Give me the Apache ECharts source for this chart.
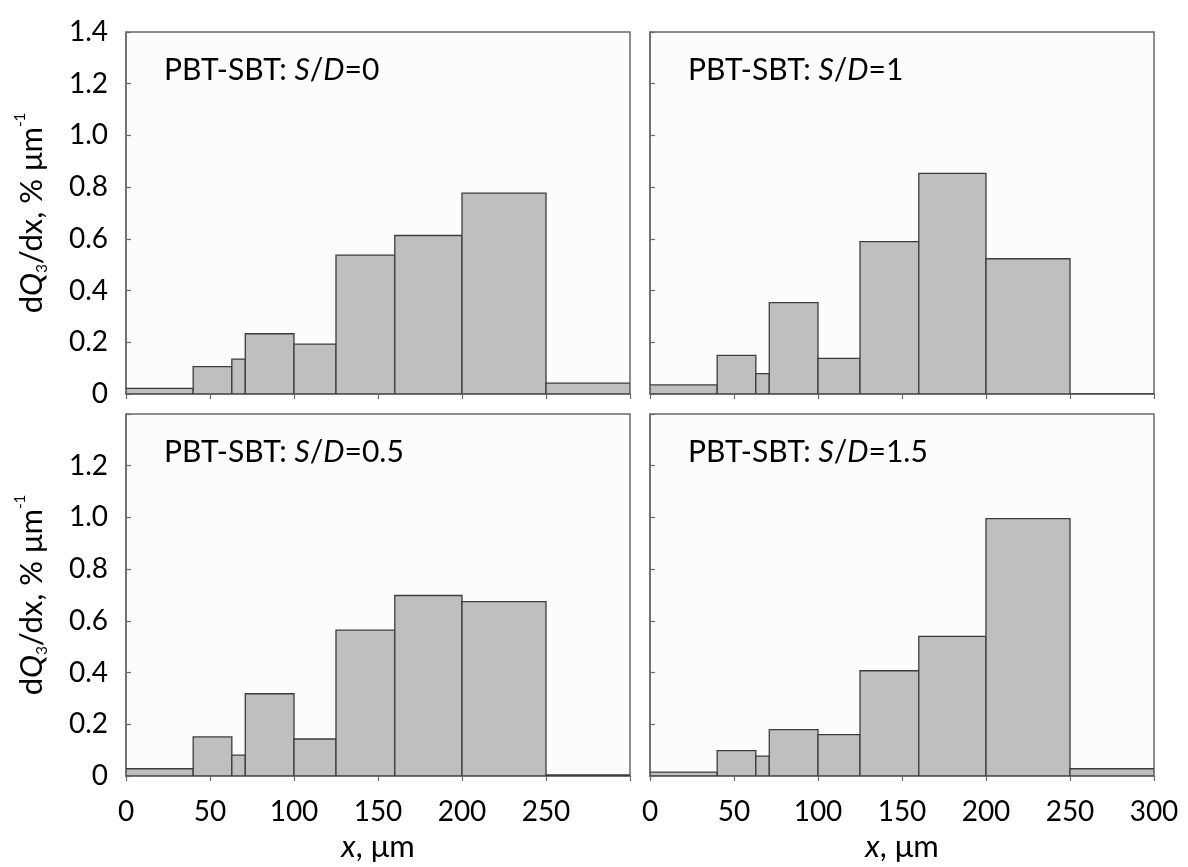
<!DOCTYPE html>
<html>
<head>
<meta charset="utf-8">
<script src="https://cdn.jsdelivr.net/npm/echarts@6/dist/echarts.min.js"></script>
<style>
html,body{margin:0;padding:0;background:#fff;}
#chart{width:1188px;height:867px;}
</style>
</head>
<body>
<div id="chart"></div>
<script>
// Bin edges (µm) shared by all panels
const binEdges = [0, 40, 63, 71, 100, 125, 160, 200, 250, 300];
// dQ3/dx values (% µm^-1) per bin
const sd0   = [0.022, 0.106, 0.135, 0.233, 0.193, 0.537, 0.613, 0.777, 0.042];
const sd1   = [0.035, 0.149, 0.079, 0.353, 0.138, 0.589, 0.853, 0.523, 0.000];
const sd05  = [0.028, 0.151, 0.081, 0.318, 0.143, 0.564, 0.698, 0.674, 0.004];
const sd15  = [0.015, 0.098, 0.077, 0.179, 0.160, 0.407, 0.540, 0.995, 0.028];
const panelLabels = ['0', '1', '0.5', '1.5'];
const xTicks = [0, 50, 100, 150, 200, 250, 300];
const yTicks = [0, 0.2, 0.4, 0.6, 0.8, 1.0, 1.2, 1.4];

const FONT = 'Lato';
const FS = 28;

const panels = [
  {vals: sd0,  label: panelLabels[0], grid: {left: 126, top: 32,  width: 504, height: 362}, yLabels: true,  xLabels: false, yMaxLabel: true,  xMaxLabel: false},
  {vals: sd1,  label: panelLabels[1], grid: {left: 650, top: 32,  width: 504, height: 362}, yLabels: false, xLabels: false, yMaxLabel: false, xMaxLabel: false},
  {vals: sd05, label: panelLabels[2], grid: {left: 126, top: 414, width: 504, height: 362}, yLabels: true,  xLabels: true,  yMaxLabel: false, xMaxLabel: false},
  {vals: sd15, label: panelLabels[3], grid: {left: 650, top: 414, width: 504, height: 362}, yLabels: false, xLabels: true,  yMaxLabel: false, xMaxLabel: true}
];

function makeRich(fs, lh, small) {
  return {
    n:   {fontFamily: FONT, fontSize: fs, fontWeight: 'normal', color: '#000', lineHeight: lh},
    i:   {fontFamily: FONT, fontSize: fs, fontWeight: 'normal', color: '#000', fontStyle: 'italic', lineHeight: lh},
    sub: {fontFamily: FONT, fontSize: small, fontWeight: 'normal', color: '#000', lineHeight: small + 3, verticalAlign: 'bottom'},
    sup: {fontFamily: FONT, fontSize: small, fontWeight: 'normal', color: '#000', lineHeight: small + 3, verticalAlign: 'top'}
  };
}
const richTitle = makeRich(30, 36, 15);
const richName = makeRich(31, 37, 15);

const grids = [], xAxes = [], yAxes = [], series = [], titles = [];
panels.forEach((p, k) => {
  grids.push(Object.assign({show: true, backgroundColor: '#fcfcfc', borderColor: '#6a6a6a', borderWidth: 1.5}, p.grid));
  xAxes.push({
    type: 'value', gridIndex: k, min: xTicks[0], max: xTicks[xTicks.length - 1], interval: 50,
    axisLine: {show: true, onZero: false, lineStyle: {color: '#6a6a6a', width: 1.5}},
    axisTick: {show: true, inside: false, length: 5, lineStyle: {color: '#6a6a6a', width: 1.2}},
    splitLine: {show: false},
    axisLabel: {
      show: p.xLabels, margin: 22, fontFamily: FONT, fontSize: FS, color: '#000',
      formatter: v => (v === 300 && !p.xMaxLabel) ? '' : String(v)
    },
    name: p.xLabels ? '{i|x}{n|, μm}' : '', nameLocation: 'middle', nameGap: 52,
    nameTextStyle: {rich: richName}
  });
  yAxes.push({
    type: 'value', gridIndex: k, min: yTicks[0], max: yTicks[yTicks.length - 1], interval: 0.2,
    axisLine: {show: true, lineStyle: {color: '#6a6a6a', width: 1.5}},
    axisTick: {show: true, inside: true, length: 5, lineStyle: {color: '#6a6a6a', width: 1.2}},
    splitLine: {show: false},
    axisLabel: {
      show: p.yLabels, margin: 18, fontFamily: FONT, fontSize: FS, color: '#000',
      formatter: v => {
        if (v === 0) return '0';
        if (Math.abs(v - 1.4) < 1e-9 && !p.yMaxLabel) return '';
        return v.toFixed(1);
      }
    },
    name: p.yLabels ? '{n|d}{i|Q}{sub|3}{n|/dx, % μm}{sup|-1}' : '',
    nameLocation: 'middle', nameRotate: 90, nameGap: 76,
    nameTextStyle: {rich: richName}
  });
  const data = p.vals.map((v, j) => [binEdges[j], binEdges[j + 1], v]);
  series.push({
    type: 'custom', xAxisIndex: k, yAxisIndex: k, data: data, clip: true,
    renderItem: function (params, api) {
      const x0 = api.value(0), x1 = api.value(1), y = api.value(2);
      const a = api.coord([x0, y]);
      const b = api.coord([x1, 0]);
      return {
        type: 'rect',
        shape: {x: a[0], y: a[1], width: b[0] - a[0], height: b[1] - a[1]},
        style: {fill: '#bfbfbf', stroke: '#3c3c3c', lineWidth: 1.3}
      };
    }
  });
  titles.push({
    text: '{n|PBT-SBT: }{i|S}{n|/}{i|D}{n|=' + p.label + '}',
    left: p.grid.left + 38, top: p.grid.top + 20, padding: 0,
    textStyle: {rich: richTitle}
  });
});

const chart = echarts.init(document.getElementById('chart'), null, {renderer: 'canvas'});
chart.setOption({
  backgroundColor: '#ffffff',
  animation: false,
  title: titles,
  grid: grids,
  xAxis: xAxes,
  yAxis: yAxes,
  series: series
});
</script>
</body>
</html>
